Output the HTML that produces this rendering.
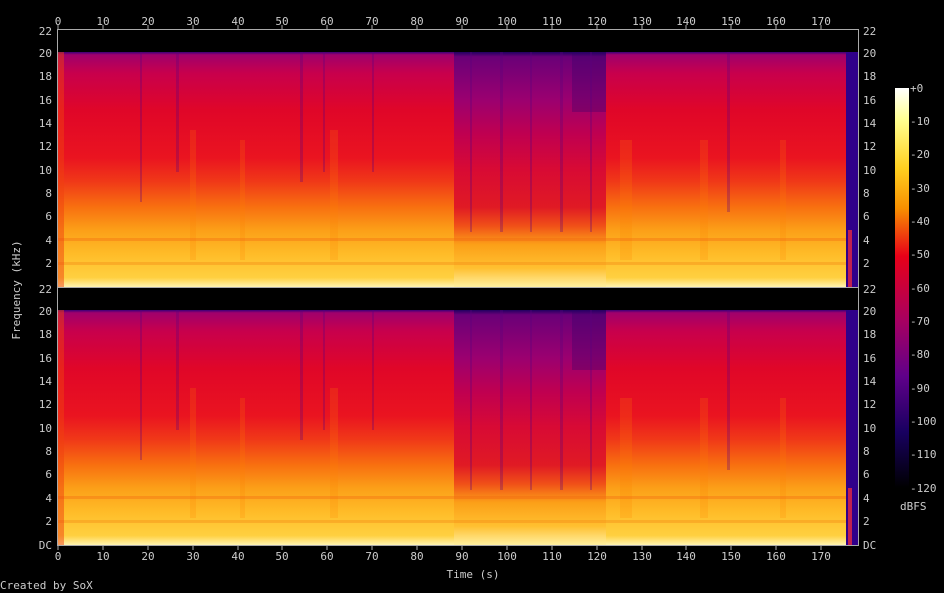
<!DOCTYPE html>
<html><head><meta charset="utf-8"><style>
html,body{margin:0;padding:0;background:#000;}
svg{display:block;font-family:"DejaVu Sans Mono","Liberation Mono",monospace;}
</style></head><body>
<svg width="944" height="593" viewBox="0 0 944 593" xmlns="http://www.w3.org/2000/svg">
<defs>
<linearGradient id="main" x1="0" y1="0" x2="0" y2="1">
<stop offset="0" stop-color="#3a0078"/>
<stop offset="0.012" stop-color="#a0006c"/>
<stop offset="0.09" stop-color="#c8004c"/>
<stop offset="0.25" stop-color="#e00628"/>
<stop offset="0.45" stop-color="#ea1420"/>
<stop offset="0.55" stop-color="#f03818"/>
<stop offset="0.66" stop-color="#f87010"/>
<stop offset="0.76" stop-color="#fca018"/>
<stop offset="0.86" stop-color="#ffbc28"/>
<stop offset="0.96" stop-color="#ffd040"/>
<stop offset="1" stop-color="#fff4b0"/>
</linearGradient>
<linearGradient id="dark" x1="0" y1="0" x2="0" y2="1">
<stop offset="0" stop-color="#200060"/>
<stop offset="0.02" stop-color="#6a0078"/>
<stop offset="0.2" stop-color="#9a0070"/>
<stop offset="0.35" stop-color="#c00050"/>
<stop offset="0.5" stop-color="#d80a34"/>
<stop offset="0.66" stop-color="#e01a24"/>
<stop offset="0.74" stop-color="#f05018"/>
<stop offset="0.82" stop-color="#fca018"/>
<stop offset="0.92" stop-color="#ffc030"/>
<stop offset="1" stop-color="#fff0a0"/>
</linearGradient>
<linearGradient id="cbar" x1="0" y1="0" x2="0" y2="1">
<stop offset="0" stop-color="#ffffff"/>
<stop offset="0.08" stop-color="#ffff90"/>
<stop offset="0.2" stop-color="#ffd020"/>
<stop offset="0.3" stop-color="#f89000"/>
<stop offset="0.42" stop-color="#e80018"/>
<stop offset="0.58" stop-color="#a80060"/>
<stop offset="0.72" stop-color="#60008a"/>
<stop offset="0.86" stop-color="#180060"/>
<stop offset="1" stop-color="#000000"/>
</linearGradient>
<g id="ch">
<rect x="58" y="0" width="800" height="257" fill="#000"/>
<rect x="58" y="22" width="800" height="235" fill="url(#main)"/>
<rect x="454" y="22" width="152" height="235" fill="url(#dark)"/>
<rect x="572" y="22" width="34" height="60" fill="#30006a" opacity="0.3"/>
<g opacity="0.3" fill="#5a0080">
<rect x="140" y="22" width="2" height="150"/><rect x="176" y="22" width="3" height="120"/><rect x="300" y="22" width="3" height="130"/>
<rect x="323" y="22" width="2" height="120"/><rect x="372" y="22" width="2" height="120"/><rect x="727" y="22" width="3" height="160"/>
<rect x="470" y="22" width="2" height="180"/><rect x="500" y="22" width="3" height="180"/><rect x="530" y="22" width="2" height="180"/>
<rect x="560" y="22" width="3" height="180"/><rect x="590" y="22" width="2" height="180"/>
</g>
<g opacity="0.2" fill="#ff8000">
<rect x="190" y="100" width="6" height="130"/><rect x="240" y="110" width="5" height="120"/><rect x="330" y="100" width="8" height="130"/>
<rect x="620" y="110" width="12" height="120"/><rect x="700" y="110" width="8" height="120"/><rect x="780" y="110" width="6" height="120"/>
</g>
<rect x="58" y="208" width="800" height="3" fill="#f06010" opacity="0.35"/>
<rect x="58" y="232" width="800" height="3" fill="#f08010" opacity="0.35"/>
<rect x="58" y="22" width="6" height="235" fill="#f04010" opacity="0.5"/>
<rect x="846" y="22" width="12" height="235" fill="#30008a"/>
<rect x="848" y="200" width="4" height="57" fill="#c02050"/>
</g>
</defs>
<use href="#ch" x="0" y="30"/>
<use href="#ch" x="0" y="288"/>
<g stroke="#aaa" fill="none" stroke-width="1">
<rect x="57.5" y="29.5" width="801" height="516"/>
<line x1="57.5" y1="287.5" x2="858.5" y2="287.5"/>
</g>
<g stroke="#aaa" stroke-width="1">
<path d="M58 25v5M103 25v5M148 25v5M193 25v5M238 25v5M282 25v5M327 25v5M372 25v5M417 25v5M462 25v5M507 25v5M552 25v5M597 25v5M642 25v5M686 25v5M731 25v5M776 25v5M821 25v5"/>
<path d="M58 545v5M103 545v5M148 545v5M193 545v5M238 545v5M282 545v5M327 545v5M372 545v5M417 545v5M462 545v5M507 545v5M552 545v5M597 545v5M642 545v5M686 545v5M731 545v5M776 545v5M821 545v5"/>
</g>
<g fill="#ccc" font-size="11" text-anchor="middle">
<text x="58" y="25">0</text><text x="103" y="25">10</text><text x="148" y="25">20</text><text x="193" y="25">30</text><text x="238" y="25">40</text><text x="282" y="25">50</text><text x="327" y="25">60</text><text x="372" y="25">70</text><text x="417" y="25">80</text><text x="462" y="25">90</text><text x="507" y="25">100</text><text x="552" y="25">110</text><text x="597" y="25">120</text><text x="642" y="25">130</text><text x="686" y="25">140</text><text x="731" y="25">150</text><text x="776" y="25">160</text><text x="821" y="25">170</text>
<text x="58" y="560">0</text><text x="103" y="560">10</text><text x="148" y="560">20</text><text x="193" y="560">30</text><text x="238" y="560">40</text><text x="282" y="560">50</text><text x="327" y="560">60</text><text x="372" y="560">70</text><text x="417" y="560">80</text><text x="462" y="560">90</text><text x="507" y="560">100</text><text x="552" y="560">110</text><text x="597" y="560">120</text><text x="642" y="560">130</text><text x="686" y="560">140</text><text x="731" y="560">150</text><text x="776" y="560">160</text><text x="821" y="560">170</text>
<text x="473" y="578">Time (s)</text>
</g>
<g fill="#ccc" font-size="11" text-anchor="end">
<text x="52" y="35">22</text><text x="52" y="57">20</text><text x="52" y="80">18</text><text x="52" y="104">16</text><text x="52" y="127">14</text><text x="52" y="150">12</text><text x="52" y="174">10</text><text x="52" y="197">8</text><text x="52" y="220">6</text><text x="52" y="244">4</text><text x="52" y="267">2</text>
<text x="52" y="293">22</text><text x="52" y="315">20</text><text x="52" y="338">18</text><text x="52" y="362">16</text><text x="52" y="385">14</text><text x="52" y="408">12</text><text x="52" y="432">10</text><text x="52" y="455">8</text><text x="52" y="478">6</text><text x="52" y="502">4</text><text x="52" y="525">2</text><text x="52" y="549">DC</text>
</g>
<g fill="#ccc" font-size="11">
<text x="863" y="35">22</text><text x="863" y="57">20</text><text x="863" y="80">18</text><text x="863" y="104">16</text><text x="863" y="127">14</text><text x="863" y="150">12</text><text x="863" y="174">10</text><text x="863" y="197">8</text><text x="863" y="220">6</text><text x="863" y="244">4</text><text x="863" y="267">2</text>
<text x="863" y="293">22</text><text x="863" y="315">20</text><text x="863" y="338">18</text><text x="863" y="362">16</text><text x="863" y="385">14</text><text x="863" y="408">12</text><text x="863" y="432">10</text><text x="863" y="455">8</text><text x="863" y="478">6</text><text x="863" y="502">4</text><text x="863" y="525">2</text><text x="863" y="549">DC</text>
<text x="910" y="92">+0</text><text x="910" y="125">-10</text><text x="910" y="158">-20</text><text x="910" y="192">-30</text><text x="910" y="225">-40</text><text x="910" y="258">-50</text><text x="910" y="292">-60</text><text x="910" y="325">-70</text><text x="910" y="358">-80</text><text x="910" y="392">-90</text><text x="910" y="425">-100</text><text x="910" y="458">-110</text><text x="910" y="492">-120</text>
<text x="900" y="510">dBFS</text>
<text x="0" y="589">Created by SoX</text>
<text transform="translate(20,290) rotate(-90)" text-anchor="middle">Frequency (kHz)</text>
</g>
<rect x="895" y="88" width="14" height="400" fill="url(#cbar)"/>
</svg>
</body></html>
